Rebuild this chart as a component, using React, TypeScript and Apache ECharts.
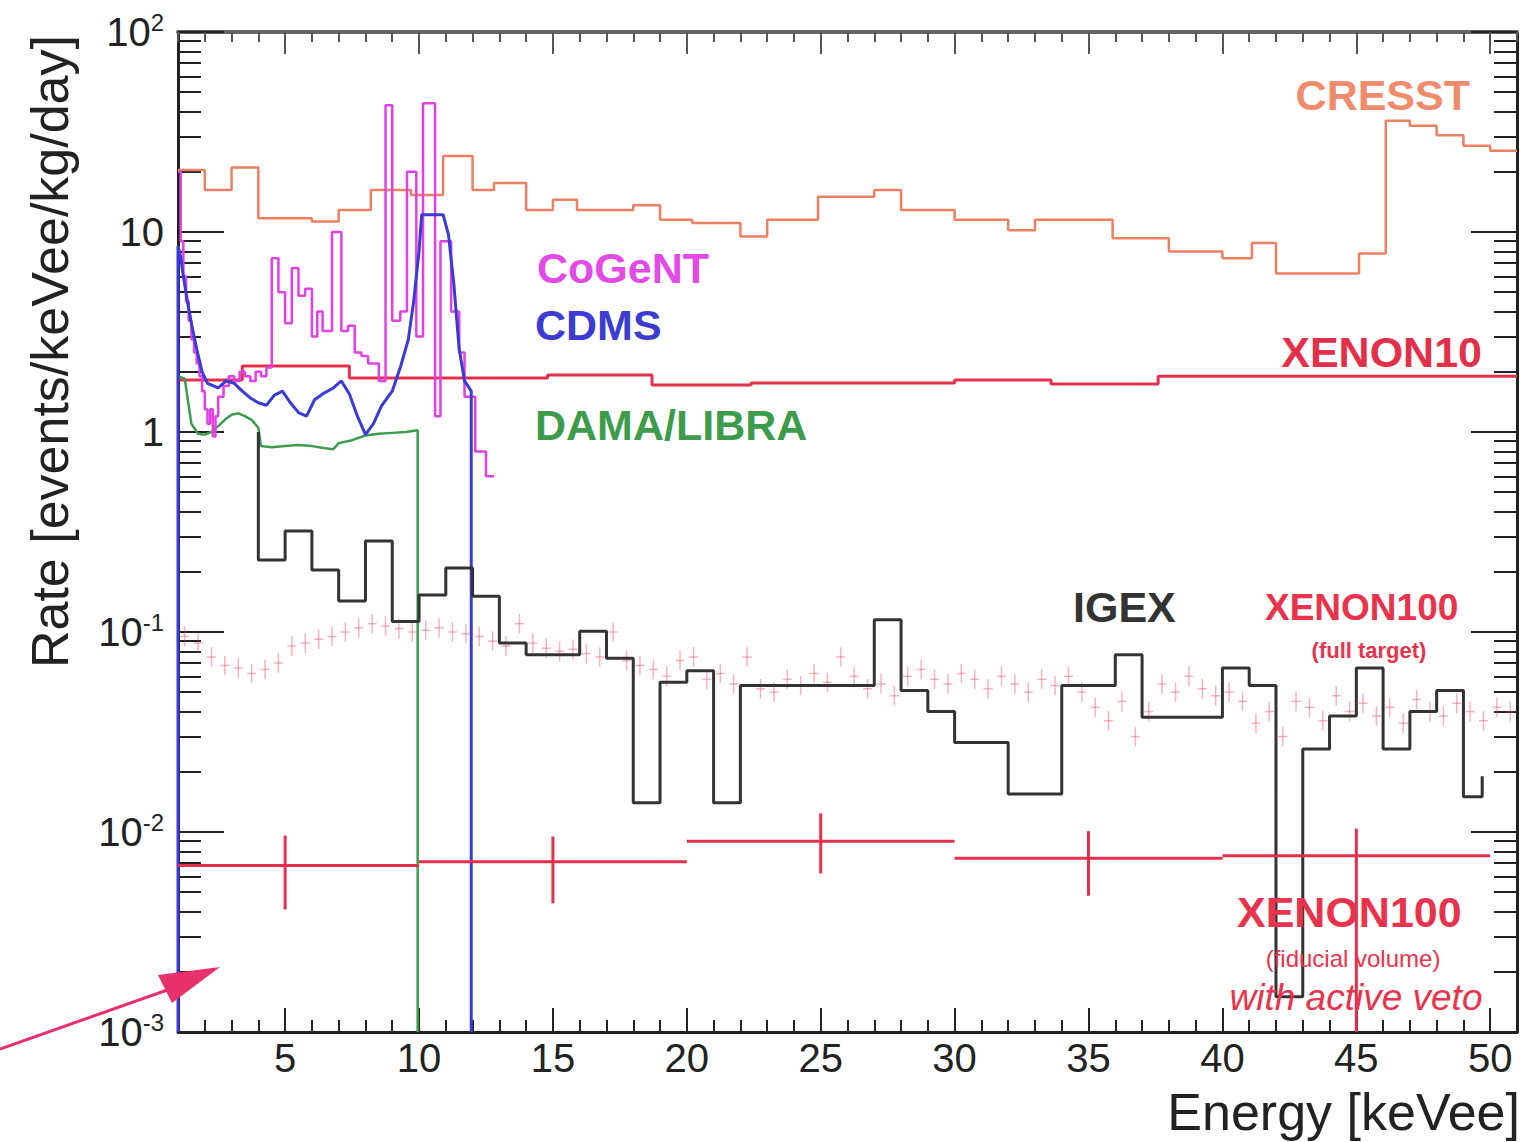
import React, { useEffect, useRef } from "react";
import * as echarts from "echarts";

const FONT = '"Liberation Sans", Arial, Helvetica, sans-serif';

// ---------- axes ----------
const X_MIN = 1;
const X_MAX = 51;
const Y_MIN = 0.001;
const Y_MAX = 100;
const X_MAJOR_TICKS = [5, 10, 15, 20, 25, 30, 35, 40, 45, 50];
const X_MINOR_TICKS = [
  1, 2, 3, 4, 5, 6, 7, 8, 9, 10, 11, 12, 13, 14, 15, 16, 17, 18, 19, 20, 21, 22, 23, 24, 25, 26,
  27, 28, 29, 30, 31, 32, 33, 34, 35, 36, 37, 38, 39, 40, 41, 42, 43, 44, 45, 46, 47, 48, 49, 50, 51,
];
const Y_DECADES = [0.001, 0.01, 0.1, 1, 10];
const Y_MANTISSAS = [2, 3, 4, 5, 6, 7, 8, 9];
const Y_MINOR_TICKS = Y_DECADES.flatMap((d) => Y_MANTISSAS.map((m) => +(m * d).toPrecision(3)));

// ---------- data ----------
// CRESST (histogram: bin edges + bin contents)
const CRESST_EDGES = [
  1, 2, 3, 4, 6, 7, 8.2, 9.7, 10.9, 12, 12.8, 14, 15, 15.9, 18, 19, 20.2, 22, 23, 24.9, 27, 28, 30,
  32, 33, 35.9, 38, 40, 41.1, 42, 45.1, 46.1, 47, 48, 49, 50, 51,
];
const CRESST_VALUES = [
  20.4, 16.2, 21, 11.7, 11.3, 12.9, 16.2, 15.3, 24, 16.2, 17.6, 12.9, 14.5, 12.9, 13.6, 11.5, 11.1,
  9.5, 11.5, 15, 16.2, 12.9, 11.5, 10.2, 11.5, 9.3, 8.0, 7.4, 8.8, 6.2, 7.8, 36, 34, 30.5, 27, 25.5,
];

// XENON10
const XENON10_EDGES = [1, 3.4, 7.4, 14.8, 18.7, 22.4, 30, 33.6, 37.6, 51];
const XENON10_VALUES = [1.82, 2.14, 1.86, 1.93, 1.72, 1.76, 1.82, 1.74, 1.9];

// CoGeNT
const COGENT_EDGES = [
  1.0, 1.1, 1.2, 1.3, 1.4, 1.5, 1.6, 1.7, 1.8, 1.9, 2.0, 2.1, 2.2, 2.3, 2.4, 2.5, 2.7, 2.9, 3.1, 3.3,
  3.5, 3.7, 3.9, 4.1, 4.3, 4.5, 4.75, 5.0, 5.25, 5.5, 5.75, 6.0, 6.2, 6.4, 6.75, 7.1, 7.35, 7.6,
  7.85, 8.1, 8.5, 8.75, 9.0, 9.3, 9.55, 9.9, 10.15, 10.6, 10.8, 11.2, 11.5, 11.7, 12.1, 12.5, 12.8,
];
const COGENT_VALUES = [
  20, 9, 6, 4.5, 3.6, 2.9, 2.5, 2.2, 1.9, 1.6, 1.3, 1.1, 1.3, 0.95, 1.2, 1.5, 1.7, 1.9, 1.8, 2.0,
  1.9, 1.8, 2.0, 1.9, 2.1, 7.4, 5.0, 3.5, 6.6, 4.8, 5.2, 3.0, 4.0, 3.2, 10, 3.2, 3.4, 2.5, 2.4, 2.2,
  1.8, 43, 3.6, 4.0, 20, 3.0, 44, 1.2, 9, 4, 2.5, 1.5, 0.8, 0.6,
];

// CDMS (polyline)
const CDMS_X = [
  1.0, 1.0, 1.1, 1.2, 1.35, 1.5, 1.7, 1.9, 2.1, 2.5, 2.8, 3.1, 3.4, 3.7, 4.0, 4.3, 4.6, 4.9, 5.2,
  5.5, 5.8, 6.1, 6.4, 6.8, 7.1, 7.4, 7.7, 8.0, 8.3, 8.6, 9.0, 9.3, 9.6, 9.8, 10.0, 10.1, 10.9, 11.1,
  11.3, 11.5, 11.7, 11.95, 11.95,
];
const CDMS_Y = [
  0.001, 8.5, 7.5, 6, 4.5, 3.5, 2.6, 2.0, 1.75, 1.66, 1.8, 1.75, 1.6, 1.48, 1.4, 1.36, 1.53, 1.6,
  1.4, 1.25, 1.2, 1.45, 1.55, 1.66, 1.8, 1.55, 1.2, 0.97, 1.1, 1.35, 1.6, 2.1, 2.9, 4.5, 8, 12.2,
  12.2, 9.7, 5.5, 2.6, 1.8, 1.6, 0.001,
];

// DAMA/LIBRA (polyline)
const DAMA_X = [
  1.0, 1.25, 1.5, 1.75, 2.0, 2.25, 2.5, 2.75, 3.0, 3.25, 3.5, 3.75, 4.0, 4.1, 4.5, 5.0, 5.5, 6.0,
  6.5, 6.8, 7.0, 7.5, 8.0, 8.5, 9.0, 9.5, 9.95, 9.95,
];
const DAMA_Y = [
  1.9, 1.85, 1.1, 0.98, 0.97, 1.0, 1.07, 1.15, 1.22, 1.24, 1.2, 1.15, 1.05, 0.85, 0.84, 0.85, 0.86,
  0.85, 0.83, 0.82, 0.88, 0.91, 0.96, 0.98, 0.99, 1.0, 1.02, 0.001,
];

// IGEX (histogram)
const IGEX_EDGES = [
  4, 5, 6, 7, 8, 9, 10, 11, 12, 13, 14, 16, 17, 18, 19, 20, 21, 22, 27, 28, 29, 30, 32, 34, 36, 37,
  40, 41, 42, 43, 44, 45, 46, 47, 48, 49, 49.7,
];
const IGEX_VALUES = [
  0.229, 0.32, 0.204, 0.143, 0.285, 0.113, 0.153, 0.209, 0.151, 0.088, 0.077, 0.101, 0.074, 0.014,
  0.056, 0.064, 0.014, 0.054, 0.115, 0.051, 0.04, 0.028, 0.0155, 0.054, 0.077, 0.0375, 0.066,
  0.054, 0.0015, 0.026, 0.038, 0.066, 0.026, 0.04, 0.051, 0.015,
];
const IGEX_START = 1.0; // value at the left edge before the first drop
const IGEX_END = 0.019; // last tick up at the right end

// XENON100 fiducial volume with active veto (points with x and y error bars)
const XE100_FID_X = [5, 15, 25, 35, 45];
const XE100_FID_XERR = [5, 5, 5, 5, 5];
const XE100_FID_Y = [0.0068, 0.0071, 0.009, 0.0074, 0.0076];
const XE100_FID_LO = [0.0041, 0.0044, 0.0062, 0.0048, 0.001];
const XE100_FID_HI = [0.0096, 0.0095, 0.0124, 0.0101, 0.0104];

// XENON100 full target (faint points)
const XE100_FULL_X = [
  1.25, 1.75, 2.25, 2.75, 3.25, 3.75, 4.25, 4.75, 5.25, 5.75, 6.25, 6.75, 7.25, 7.75, 8.25, 8.75,
  9.25, 9.75, 10.25, 10.75, 11.25, 11.75, 12.25, 12.75, 13.25, 13.75, 14.25, 14.75, 15.25, 15.75,
  16.25, 16.75, 17.25, 17.75, 18.25, 18.75, 19.25, 19.75, 20.25, 20.75, 21.25, 21.75, 22.25, 22.75,
  23.25, 23.75, 24.25, 24.75, 25.25, 25.75, 26.25, 26.75, 27.25, 27.75, 28.25, 28.75, 29.25, 29.75,
  30.25, 30.75, 31.25, 31.75, 32.25, 32.75, 33.25, 33.75, 34.25, 34.75, 35.25, 35.75, 36.25, 36.75,
  37.25, 37.75, 38.25, 38.75, 39.25, 39.75, 40.25, 40.75, 41.25, 41.75, 42.25, 42.75, 43.25, 43.75,
  44.25, 44.75, 45.25, 45.75, 46.25, 46.75, 47.25, 47.75, 48.25, 48.75, 49.25, 49.75, 50.25, 50.75,
];
const XE100_FULL_Y = [
  0.095, 0.088, 0.075, 0.068, 0.066, 0.062, 0.065, 0.07, 0.085, 0.088, 0.092, 0.095, 0.1, 0.105,
  0.11, 0.107, 0.104, 0.1, 0.102, 0.105, 0.1, 0.098, 0.095, 0.09, 0.085, 0.11, 0.088, 0.083, 0.08,
  0.082, 0.078, 0.075, 0.1, 0.072, 0.068, 0.065, 0.06, 0.072, 0.075, 0.058, 0.062, 0.055, 0.075,
  0.052, 0.05, 0.058, 0.054, 0.062, 0.056, 0.075, 0.06, 0.052, 0.055, 0.048, 0.06, 0.065, 0.058,
  0.055, 0.062, 0.058, 0.052, 0.06, 0.055, 0.05, 0.058, 0.054, 0.06, 0.05, 0.042, 0.036, 0.045,
  0.03, 0.04, 0.055, 0.05, 0.06, 0.052, 0.048, 0.05, 0.045, 0.035, 0.04, 0.03, 0.045, 0.042, 0.036,
  0.048, 0.04, 0.044, 0.038, 0.042, 0.035, 0.046, 0.04, 0.038, 0.044, 0.04, 0.036, 0.042, 0.04,
];

// ---------- colours ----------
const C_CRESST = "#ec8062";
const C_COGENT = "#e040e4";
const C_CDMS = "#3a3ad6";
const C_DAMA = "#3c9c4c";
const C_XENON = "#e5304c";
const C_IGEX = "#333333";
const C_AXIS = "#222222";

function histogram(edges: number[], values: number[]) {
  const pts: number[][] = values.map((v, i) => [edges[i], v]);
  pts.push([edges[edges.length - 1], values[values.length - 1]]);
  return pts;
}

function zip(xs: number[], ys: number[]) {
  return xs.map((x, i) => [x, ys[i]]);
}

function buildOption(): any {
  const xBase = {
    type: "value",
    min: X_MIN,
    max: X_MAX,
    splitLine: { show: false },
  };
  const yBase = {
    type: "log",
    logBase: 10,
    min: Y_MIN,
    max: Y_MAX,
    splitLine: { show: false },
  };
  const tickStyle = { color: C_AXIS, width: 2 };

  const igexData = [[IGEX_EDGES[0], IGEX_START], ...histogram(IGEX_EDGES, IGEX_VALUES)];
  igexData.push([IGEX_EDGES[IGEX_EDGES.length - 1], IGEX_END]);

  const titleFont = `52px ${FONT}`;
  const labelFont = (size: number, bold = true, italic = false) =>
    `${italic ? "italic " : ""}${bold ? "bold " : ""}${size}px ${FONT}`;
  const txt = (
    text: string,
    x: number,
    y: number,
    fill: string,
    font: string,
    align: string = "left",
    rotation = 0
  ) => ({
    type: "text",
    x,
    y,
    rotation,
    z: 100,
    style: {
      text,
      fill,
      font,
      align,
      textAlign: align,
      verticalAlign: "middle",
      textVerticalAlign: "middle",
    },
  });

  return {
    animation: false,
    backgroundColor: "#ffffff",
    grid: { left: 178, top: 32, width: 1339, height: 1000, containLabel: false },
    xAxis: [
      {
        ...xBase,
        position: "bottom",
        axisLine: { show: true, onZero: false, lineStyle: { color: C_AXIS, width: 3 } },
        axisTick: { show: true, inside: true, length: 24, customValues: X_MAJOR_TICKS, lineStyle: tickStyle },
        axisLabel: {
          show: true,
          customValues: X_MAJOR_TICKS,
          fontSize: 40,
          fontFamily: FONT,
          color: C_AXIS,
          margin: 6,
        },
      },
      {
        ...xBase,
        position: "bottom",
        axisLine: { show: false, onZero: false },
        axisTick: { show: true, inside: true, length: 12, customValues: X_MINOR_TICKS, lineStyle: tickStyle },
        axisLabel: { show: false },
      },
      {
        ...xBase,
        position: "top",
        axisLine: { show: true, onZero: false, lineStyle: { color: "#666", width: 4 } },
        axisTick: { show: true, inside: true, length: 22, customValues: X_MAJOR_TICKS, lineStyle: { color: "#555", width: 2 } },
        axisLabel: { show: false },
      },
      {
        ...xBase,
        position: "top",
        axisLine: { show: false, onZero: false },
        axisTick: { show: true, inside: true, length: 10, customValues: X_MINOR_TICKS, lineStyle: { color: "#555", width: 2 } },
        axisLabel: { show: false },
      },
    ],
    yAxis: [
      {
        ...yBase,
        position: "left",
        axisLine: { show: true, onZero: false, lineStyle: { color: C_AXIS, width: 3 } },
        axisTick: { show: true, inside: true, length: 46, lineStyle: tickStyle },
        axisLabel: {
          show: true,
          margin: 14,
          formatter: (v: number) => {
            const e = Math.round(Math.log10(v));
            if (e === 0) return "{b|1}";
            if (e === 1) return "{b|10}";
            return "{b|10}{s|" + e + "}";
          },
          rich: {
            b: { fontSize: 40, fontFamily: FONT, color: C_AXIS, lineHeight: 44 },
            s: { fontSize: 24, fontFamily: FONT, color: C_AXIS, verticalAlign: "top" },
          },
        },
      },
      {
        ...yBase,
        position: "left",
        axisLine: { show: false, onZero: false },
        axisTick: { show: true, inside: true, length: 23, customValues: Y_MINOR_TICKS, lineStyle: tickStyle },
        axisLabel: { show: false },
      },
      {
        ...yBase,
        position: "right",
        axisLine: { show: true, onZero: false, lineStyle: { color: C_AXIS, width: 3 } },
        axisTick: { show: true, inside: true, length: 46, lineStyle: tickStyle },
        axisLabel: { show: false },
      },
      {
        ...yBase,
        position: "right",
        axisLine: { show: false, onZero: false },
        axisTick: { show: true, inside: true, length: 23, customValues: Y_MINOR_TICKS, lineStyle: tickStyle },
        axisLabel: { show: false },
      },
    ],
    series: [
      {
        name: "XENON100 (full target)",
        type: "custom",
        xAxisIndex: 0,
        yAxisIndex: 0,
        z: 1,
        data: zip(XE100_FULL_X, XE100_FULL_Y),
        renderItem: (params: any, api: any) => {
          const x = api.value(0);
          const y = api.value(1);
          const l = api.coord([x - 0.17, y]);
          const r = api.coord([x + 0.17, y]);
          const t = api.coord([x, y * 1.12]);
          const b = api.coord([x, y / 1.12]);
          const style = { stroke: "rgba(232,60,80,0.38)", lineWidth: 1.5 };
          return {
            type: "group",
            children: [
              { type: "line", shape: { x1: l[0], y1: l[1], x2: r[0], y2: r[1] }, style },
              { type: "line", shape: { x1: t[0], y1: t[1], x2: b[0], y2: b[1] }, style },
            ],
          };
        },
      },
      {
        name: "CRESST",
        type: "line",
        step: "end",
        showSymbol: false,
        symbol: "none",
        z: 2,
        data: histogram(CRESST_EDGES, CRESST_VALUES),
        lineStyle: { color: C_CRESST, width: 2.5 },
      },
      {
        name: "XENON10",
        type: "line",
        step: "end",
        symbol: "none",
        z: 3,
        data: histogram(XENON10_EDGES, XENON10_VALUES),
        lineStyle: { color: C_XENON, width: 3 },
      },
      {
        name: "DAMA/LIBRA",
        type: "line",
        symbol: "none",
        z: 4,
        data: zip(DAMA_X, DAMA_Y),
        lineStyle: { color: C_DAMA, width: 2.5 },
      },
      {
        name: "CoGeNT",
        type: "line",
        step: "end",
        symbol: "none",
        z: 5,
        data: histogram(COGENT_EDGES, COGENT_VALUES),
        lineStyle: { color: C_COGENT, width: 2.5 },
      },
      {
        name: "CDMS",
        type: "line",
        symbol: "none",
        z: 6,
        data: zip(CDMS_X, CDMS_Y),
        lineStyle: { color: C_CDMS, width: 3 },
      },
      {
        name: "IGEX",
        type: "line",
        step: "end",
        symbol: "none",
        z: 7,
        data: igexData,
        lineStyle: { color: C_IGEX, width: 3 },
      },
      {
        name: "XENON100 (fiducial)",
        type: "custom",
        z: 8,
        data: XE100_FID_X.map((x, i) => [x, XE100_FID_Y[i], XE100_FID_LO[i], XE100_FID_HI[i], XE100_FID_XERR[i]]),
        renderItem: (params: any, api: any) => {
          const x = api.value(0);
          const y = api.value(1);
          const lo = Math.max(api.value(2), Y_MIN);
          const hi = api.value(3);
          const hw = api.value(4);
          const l = api.coord([Math.max(x - hw, X_MIN), y]);
          const r = api.coord([Math.min(x + hw, X_MAX), y]);
          const t = api.coord([x, hi]);
          const b = api.coord([x, lo]);
          const style = { stroke: C_XENON, lineWidth: 3 };
          return {
            type: "group",
            children: [
              { type: "line", shape: { x1: l[0], y1: l[1], x2: r[0], y2: r[1] }, style },
              { type: "line", shape: { x1: t[0], y1: t[1], x2: b[0], y2: b[1] }, style },
            ],
          };
        },
      },
    ],
    graphic: [
      txt("Rate [events/keVee/kg/day]", 50, 35, C_AXIS, titleFont, "right", Math.PI / 2),
      txt("Energy [keVee]", 1520, 1112, C_AXIS, titleFont, "right"),
      txt("CRESST", 1470, 95, "#f08c6c", labelFont(43), "right"),
      txt("CoGeNT", 537, 268, "#e24ae6", labelFont(43)),
      txt("CDMS", 535, 325, "#3c3cd2", labelFont(43)),
      txt("DAMA/LIBRA", 535, 425, "#3c9c4c", labelFont(43)),
      txt("XENON10", 1482, 352, "#e3304a", labelFont(43), "right"),
      txt("IGEX", 1073, 607, "#333333", labelFont(43)),
      txt("XENON100", 1265, 607, "#e8334c", labelFont(37)),
      txt("(full target)", 1369, 650, "#e8334c", labelFont(22), "center"),
      txt("XENON100", 1237, 912, "#e8334c", labelFont(43)),
      txt("(fiducial volume)", 1353, 958, "#e8334c", labelFont(24, false), "center"),
      txt("with active veto", 1356, 997, "#e8334c", labelFont(37, false, true), "center"),
      {
        type: "line",
        z: 100,
        shape: { x1: 0, y1: 1049, x2: 190, y2: 982 },
        style: { stroke: "#e8306a", lineWidth: 3 },
      },
      {
        type: "polygon",
        z: 100,
        shape: { points: [[158, 975], [220, 967], [172, 1003]] },
        style: { fill: "#e8306a" },
      },
    ],
  };
}

export default function App() {
  const ref = useRef<HTMLDivElement>(null);
  useEffect(() => {
    if (!ref.current) return;
    const chart = echarts.init(ref.current, undefined, { renderer: "svg" });
    chart.setOption(buildOption());
    return () => chart.dispose();
  }, []);
  return (
    <div
      ref={ref}
      style={{ position: "absolute", left: 0, top: 0, width: 1525, height: 1142, background: "#fff" }}
    />
  );
}
